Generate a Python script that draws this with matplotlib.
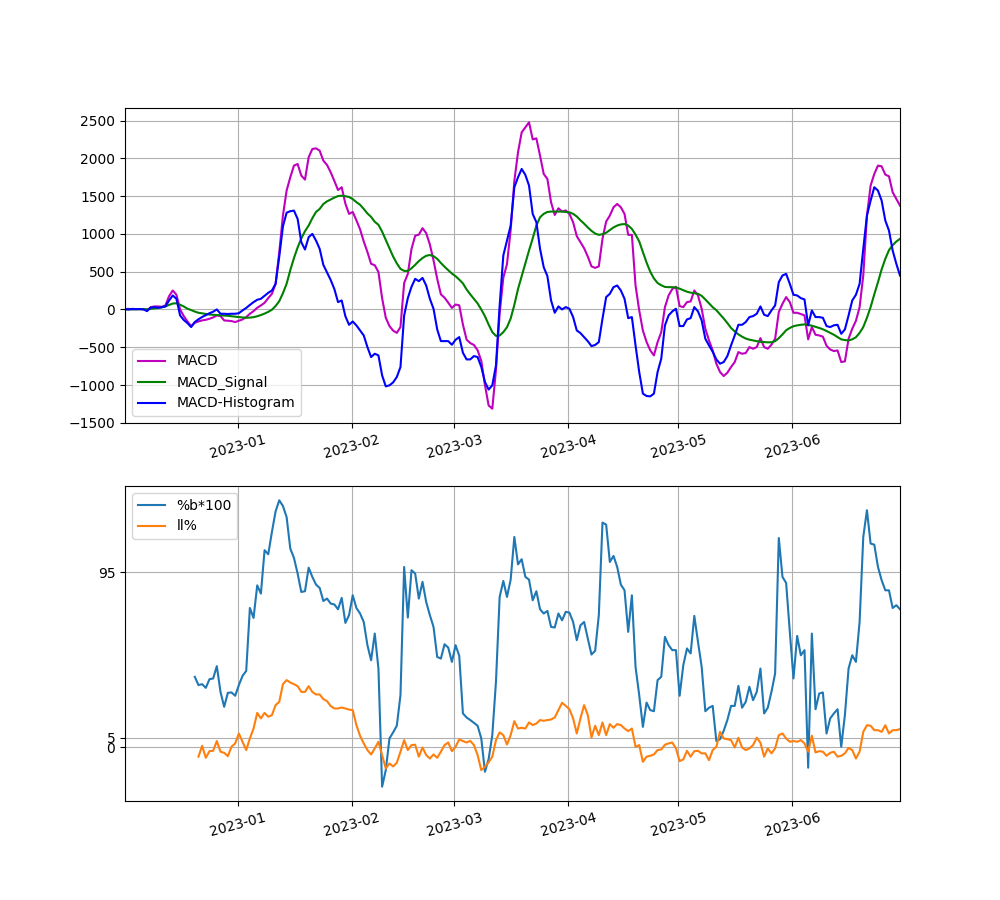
import numpy as np
import pandas as pd
from matplotlib import pyplot as plt

# daily timestamps, 2022-12-01 08:00 .. 2023-06-30 08:00
dates = pd.date_range('2022-12-01 08:00', periods=212, freq='D')

macd = [5, 8, 3, 6, 4, 2, -13, 30, 40, 40, 35, 53, 176, 251, 194, 0, -88, -159, -220, -176,
        -159, -145, -137, -123, -106, -79, -88, -145, -150, -154, -167, -150, -132, -101, -57, -22, 22, 53, 88, 150,
        207, 339, 758, 1242, 1573, 1749, 1903, 1925, 1771, 1718, 2013, 2123, 2132, 2101, 1969, 1912, 1815, 1700, 1580, 1617,
        1400, 1264, 1290, 1180, 1060, 900, 760, 604, 585, 495, 150, -110, -220, -280, -310, -233, 350, 470, 800, 975,
        990, 1075, 1010, 860, 650, 405, 200, 155, 90, 20, 65, 55, -200, -400, -445, -470, -540, -680, -1000, -1270,
        -1313, -800, -50, 420, 600, 1050, 1700, 2080, 2343, 2410, 2476, 2250, 2264, 2035, 1793, 1727, 1418, 1250, 1339, 1295,
        1310, 1264, 1154, 970, 890, 810, 700, 570, 550, 570, 934, 1163, 1242, 1352, 1396, 1352, 1264, 987, 987, 317,
        -13, -280, -430, -540, -608, -432, -300, 31, 185, 270, 300, 44, 31, 97, 106, 251, 185, 9, -255, -410,
        -542, -718, -828, -881, -837, -762, -696, -564, -586, -577, -498, -520, -498, -379, -498, -520, -467, -388, -35, 75,
        163, 97, -44, -44, -60, -79, -396, -233, -335, -344, -360, -480, -530, -551, -542, -696, -687, -388, -255, -150,
        30, 449, 1242, 1639, 1793, 1903, 1894, 1784, 1762, 1551, 1462, 1374]

macd_signal = [0, 1, 2, 3, 3, 4, 3, 8, 14, 20, 28, 40, 60, 78, 82, 62, 40, 10, -8, -28,
               -44, -52, -60, -67, -71, -74, -77, -79, -84, -90, -96, -101, -106, -110, -108, -102, -90, -74, -55, -32,
               -4, 45, 110, 215, 340, 520, 680, 820, 940, 1035, 1110, 1207, 1290, 1330, 1395, 1430, 1455, 1480, 1500, 1505,
               1498, 1488, 1460, 1420, 1385, 1330, 1270, 1225, 1160, 1120, 1030, 920, 810, 700, 610, 537, 510, 510, 545, 590,
               640, 680, 710, 720, 705, 670, 615, 565, 520, 475, 440, 395, 345, 265, 200, 141, 80, 0, -90, -200,
               -300, -350, -345, -300, -235, -120, 60, 270, 440, 610, 780, 940, 1110, 1220, 1265, 1290, 1295, 1295, 1295, 1295,
               1290, 1285, 1265, 1230, 1180, 1135, 1085, 1040, 1005, 987, 995, 1015, 1050, 1085, 1110, 1125, 1130, 1110, 1066, 990,
               900, 760, 620, 500, 410, 350, 320, 298, 295, 295, 290, 275, 255, 235, 222, 214, 207, 180, 132, 80,
               30, -10, -65, -120, -180, -245, -290, -330, -360, -385, -400, -410, -420, -428, -432, -435, -434, -420, -380, -330,
               -275, -245, -222, -211, -203, -198, -205, -215, -230, -245, -262, -285, -310, -335, -365, -396, -405, -410, -395, -368,
               -310, -233, -110, 31, 200, 360, 530, 670, 785, 850, 899, 934]

macd_hist = [5, 0, 8, 3, 6, 2, -22, 25, 31, 22, 30, 40, 119, 185, 141, -79, -140, -181, -233, -167,
             -130, -100, -75, -50, -30, 0, -57, -57, -60, -57, -57, -50, -13, 20, 60, 97, 128, 141, 180, 220,
             251, 339, 700, 1100, 1280, 1300, 1308, 1198, 890, 793, 956, 1000, 912, 802, 590, 490, 390, 270, 97, 119,
             -90, -203, -159, -211, -278, -344, -498, -630, -586, -608, -872, -1018, -1004, -965, -894, -762, -80, 150, 300, 405,
             374, 418, 317, 141, 9, -264, -419, -419, -419, -467, -401, -366, -573, -661, -661, -617, -630, -760, -960, -1060,
             -1004, -740, 50, 714, 912, 1110, 1617, 1749, 1859, 1780, 1639, 1264, 1154, 802, 559, 441, 119, -44, 40, 0,
             31, 9, -101, -278, -313, -366, -420, -485, -470, -432, -123, 163, 207, 295, 317, 251, 141, -115, -101, -476,
             -828, -1114, -1145, -1150, -1114, -828, -652, -211, -79, -26, 9, -220, -220, -132, -115, 31, -26, -145, -388, -476,
             -560, -661, -718, -696, -617, -476, -344, -203, -203, -167, -101, -88, -57, 40, -70, -88, -13, 53, 361, 449,
             471, 339, 194, 185, 150, 132, -211, -13, -101, -101, -110, -220, -233, -210, -203, -322, -264, -79, 119, 194,
             339, 802, 1242, 1440, 1617, 1573, 1440, 1176, 1044, 780, 604, 449]

# %b*100 starts on the 20th day, ll% one day later
pct_b = [38.2, 33.7, 34.2, 32.2, 36.9, 37.3, 44.0, 30.0, 21.9, 29.5, 29.7, 27.9, 33.7, 38.7, 41.4,
         75.6, 70.2, 87.9, 83.4, 107.0, 104.8, 116.9, 128.1, 134.1, 131.0, 125.0, 107.9, 102.8, 94.3, 84.3,
         84.7, 97.5, 92.5, 88.3, 86.5, 79.4, 80.7, 78.0, 77.5, 74.9, 81.1, 67.5, 71.7, 82.5, 75.6,
         72.6, 68.0, 55.4, 47.2, 61.7, 42.7, -21.5, -12.5, 4.7, 8.0, 11.6, 28.2, 97.9, 70.4, 96.1,
         94.3, 80.7, 89.8, 78.9, 71.7, 65.3, 49.0, 48.1, 55.9, 54.1, 46.3, 55.4, 49.6, 18.3, 16.1,
         14.7, 13.2, 11.6, 4.7, -13.4, -6.5, 6.5, 35.5, 81.6, 90.3, 81.6, 91.0, 114.2, 99.3, 102.1,
         92.5, 91.0, 79.8, 84.7, 74.9, 72.6, 74.0, 65.3, 65.0, 72.6, 68.9, 73.5, 73.1, 68.0, 58.1,
         66.2, 68.0, 59.0, 50.3, 52.3, 71.7, 122.0, 120.9, 100.6, 103.9, 97.9, 88.3, 85.2, 62.6, 82.5,
         43.6, 28.2, 11.0, 24.2, 20.1, 19.5, 36.4, 38.2, 59.9, 55.4, 52.7, 52.7, 27.9, 44.5, 53.6,
         50.9, 71.3, 57.2, 43.6, 19.5, 21.4, 22.4, 3.3, 4.3, 8.9, 14.7, 22.4, 22.4, 33.3, 21.4,
         24.6, 32.8, 25.5, 30.0, 42.7, 18.3, 21.4, 30.0, 40.0, 113.6, 92.5, 89.2, 62.6, 37.3, 60.4,
         49.9, 52.7, -11.2, 61.7, 20.6, 29.1, 29.7, 7.4, 15.6, 18.3, 20.6, 0.2, 17.4, 42.7, 49.9,
         46.3, 68.0, 114.2, 128.7, 110.6, 110.0, 97.9, 90.7, 85.2, 85.2, 75.6, 77.1, 74.9]

ll_pct = [-5.2, 0.7, -5.8, -2.2, -2.0, 3.3, -2.5, -3.1, -4.9, 0.2, 2.0, 7.4, 2.9, -1.6,
          4.7, 10.1, 18.6, 15.6, 18.6, 16.5, 17.4, 22.8, 24.6, 34.2, 36.4, 35.1, 34.2, 33.1, 30.0, 30.0,
          33.1, 30.0, 28.6, 28.6, 26.1, 25.0, 22.3, 21.0, 21.0, 21.5, 21.0, 20.4, 20.1, 12.0, 6.1,
          2.0, -1.6, -4.0, -0.7, 2.9, -4.3, -11.6, -8.9, -10.5, -8.5, -2.5, 3.8, -1.6, 1.1, 1.3,
          -5.2, -0.2, -4.3, -6.2, -4.0, -5.8, -2.5, 1.1, 2.5, -2.2, 0.2, 4.2, 3.3, 2.5, 3.4,
          1.1, -4.3, -12.5, -10.7, -8.3, -5.2, 3.8, 8.0, 6.5, 1.4, 6.5, 14.1, 10.1, 10.5, 10.1,
          13.4, 12.0, 12.8, 14.7, 14.3, 14.7, 15.0, 16.1, 20.1, 24.1, 22.4, 20.6, 15.6, 7.4, 15.6,
          22.8, 17.4, 5.2, 11.6, 6.5, 13.4, 6.5, 12.5, 10.5, 12.5, 12.0, 10.1, 8.7, 10.1, 0.2,
          1.1, -8.0, -5.2, -4.7, -4.0, -1.6, -1.3, 1.3, 2.0, 2.5, -0.7, -7.6, -6.7, -2.0, -5.2,
          -2.2, -2.0, -3.4, -3.4, -7.1, -1.6, 0.2, 8.3, 4.7, 4.3, 3.8, -0.2, 5.1, -0.2, -1.6,
          -0.7, 1.1, 5.1, 2.4, -5.2, -0.7, -3.4, -0.7, 6.5, 7.4, 4.7, 2.9, 3.3, 2.9, 3.8,
          2.0, -2.5, 6.2, -2.9, -2.2, -2.5, -4.7, -3.1, -2.5, -5.2, -4.7, -3.4, -0.4, -1.6, -6.2,
          -2.5, 8.3, 11.9, 11.6, 9.2, 9.2, 8.3, 11.9, 7.4, 9.2, 9.2, 9.8]

fig, (ax1, ax2) = plt.subplots(2, 1, figsize=(10, 9))

ax1.plot(dates, macd, 'm', label='MACD')
ax1.plot(dates, macd_signal, 'g', label='MACD_Signal')
ax1.plot(dates, macd_hist, 'b', label='MACD-Histogram')
ax1.set_xlim(dates[0], dates[-1])
ax1.legend(loc='lower left')
ax1.grid(True)
ax1.tick_params(axis='x', labelrotation=15)

ax2.plot(dates[19:], pct_b, label='%b*100')
ax2.plot(dates[20:], ll_pct, label='ll%')
ax2.set_xlim(dates[0], dates[-1])
ax2.set_yticks([95, 5, 0])
ax2.legend(loc='upper left')
ax2.grid(True)
ax2.tick_params(axis='x', labelrotation=15)

plt.savefig('out.png')
